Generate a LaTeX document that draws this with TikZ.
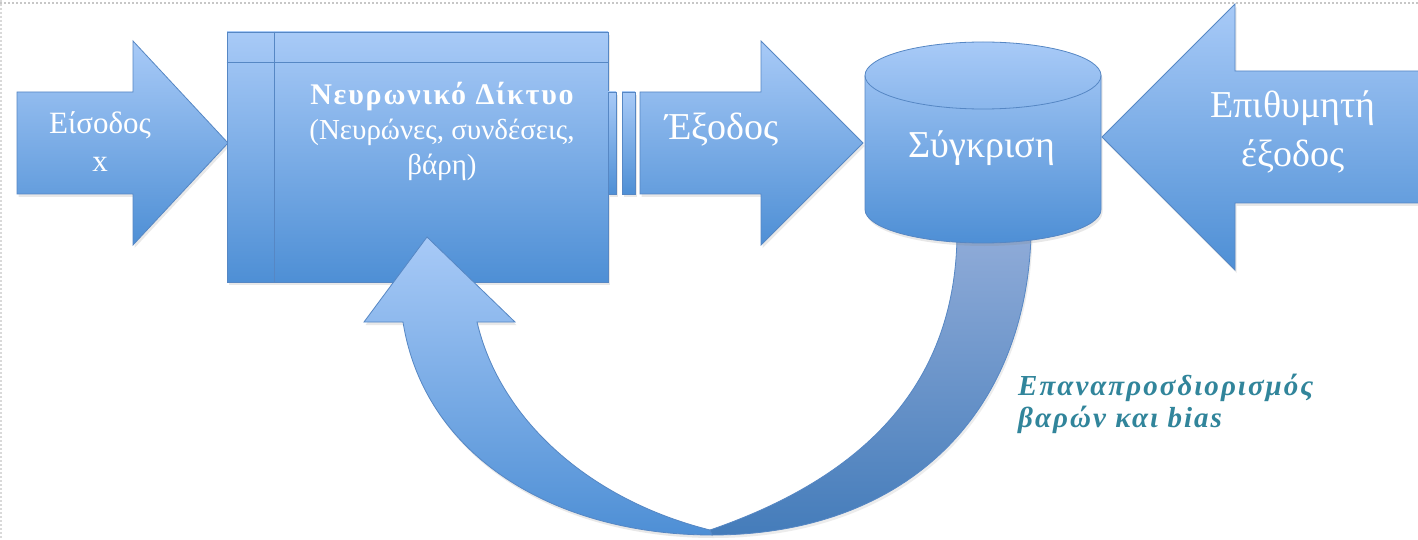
\documentclass[tikz,border=0pt]{standalone}
\usepackage{fontspec}
\setmainfont{Liberation Serif}
\usetikzlibrary{shadows}
\definecolor{topblue}{RGB}{168,202,247}
\definecolor{botblue}{RGB}{78,143,213}
\definecolor{edgeblue}{RGB}{86,135,196}
\definecolor{backtop}{RGB}{143,171,216}
\definecolor{backbot}{RGB}{68,124,186}
\definecolor{fbteal}{RGB}{49,133,155}
\tikzset{
  blockshape/.style={draw=edgeblue, line width=0.8pt, top color=topblue, bottom color=botblue,
    drop shadow={opacity=0.18, shadow xshift=1.5pt, shadow yshift=-3pt}},
  backshape/.style={draw=edgeblue, line width=0.8pt, top color=backtop, bottom color=backbot,
    drop shadow={opacity=0.15, shadow xshift=1.5pt, shadow yshift=-3pt}},
  whitetext/.style={text=white, inner sep=0pt, anchor=base},
  tealtext/.style={text=fbteal, inner sep=0pt, anchor=base west,
    font=\bfseries\itshape\fontsize{29}{32}\selectfont\addfontfeatures{LetterSpace=7}},
}
\begin{document}
\begin{tikzpicture}[x=1pt, y=-1pt]
\useasboundingbox (0,0) rectangle (1418,540);
\fill[white] (0,0) rectangle (1418,540);
% slide border (dotted)
\draw[black!22, line width=1.5pt, dash pattern=on 2pt off 2pt] (0,3) -- (1418,3);
\draw[black!15, line width=1.2pt, dash pattern=on 2pt off 2pt] (1,0) -- (1,540);

% feedback arrow, back part (from comparison, down)
\path[backshape] (957,236) -- (1031,236) .. controls (1025,420) and (900,535) .. (712,535)
  -- (710,530) .. controls (870,475) and (955,380) .. (957,236) -- cycle;

% input arrow
\path[blockshape] (17,92) -- (133,92) -- (133,41) -- (228,143) -- (133,245) -- (133,194) -- (17,194) -- cycle;
\node[whitetext, font=\fontsize{31}{36}\selectfont] (inA) at (100,134) {Είσοδος};
\node[whitetext, font=\fontsize{31}{36}\selectfont] (inB) at (100,172) {x};

% neural network box
\node[blockshape, rectangle, minimum width=381pt, minimum height=250pt, inner sep=0pt] (nn) at (417.5,157) {};
\draw[edgeblue, line width=0.8pt] (nn.north west) ++(48,0) coordinate (v1) -- (v1 |- nn.south);
\draw[edgeblue, line width=0.8pt] (nn.north west) ++(0,31) coordinate (h1) -- (h1 -| nn.east);
\node[whitetext, font=\bfseries\fontsize{30}{35}\selectfont\addfontfeatures{LetterSpace=6}] (nnA) at (442,105) {Νευρωνικό Δίκτυο};
\node[whitetext, font=\fontsize{29}{35}\selectfont] (nnB) at (442,140) {(Νευρώνες, συνδέσεις,};
\node[whitetext, font=\fontsize{29}{35}\selectfont] (nnC) at (442,175) {βάρη)};

% small bars
\path[blockshape] (608,92) rectangle (616,194);
\path[blockshape] (622,92) rectangle (635,194);

% output arrow
\path[blockshape] (640,92) -- (761,92) -- (761,41) -- (863,143) -- (761,245) -- (761,194) -- (640,194) -- cycle;
\node[whitetext, font=\fontsize{38}{40}\selectfont] (outA) at (722,140) {Έξοδος};

% comparison cylinder
\path[blockshape] (865,75.5) -- (865,209.5) arc[start angle=180, end angle=0, x radius=118, y radius=33.5]
  -- (1101,75.5) arc[start angle=0, end angle=-180, x radius=118, y radius=33.5] -- cycle;
\draw[edgeblue, line width=0.8pt] (865,75.5) arc[start angle=180, end angle=0, x radius=118, y radius=33.5];
\node[whitetext, font=\fontsize{38}{40}\selectfont] (cmp) at (982,158) {Σύγκριση};

% desired output arrow
\path[blockshape] (1422,71) -- (1235,71) -- (1235,4) -- (1102,137) -- (1235,270) -- (1235,203) -- (1422,203) -- cycle;
\node[whitetext, font=\fontsize{38}{45}\selectfont] (desA) at (1293,118) {Επιθυμητή};
\node[whitetext, font=\fontsize{38}{45}\selectfont] (desB) at (1293,167) {έξοδος};

% feedback arrow, front part (up into the network)
\path[blockshape] (427,237) -- (515,322) -- (477,322) .. controls (500,420) and (590,500) .. (710,530)
  -- (712,535) .. controls (560,535) and (425,460) .. (403,322) -- (364,322) -- cycle;

% feedback label
\node[tealtext] (fbA) at (1018,395) {Επαναπροσδιορισμός};
\node[tealtext] (fbB) at (1018,427) {βαρών και bias};
\end{tikzpicture}
\end{document}
